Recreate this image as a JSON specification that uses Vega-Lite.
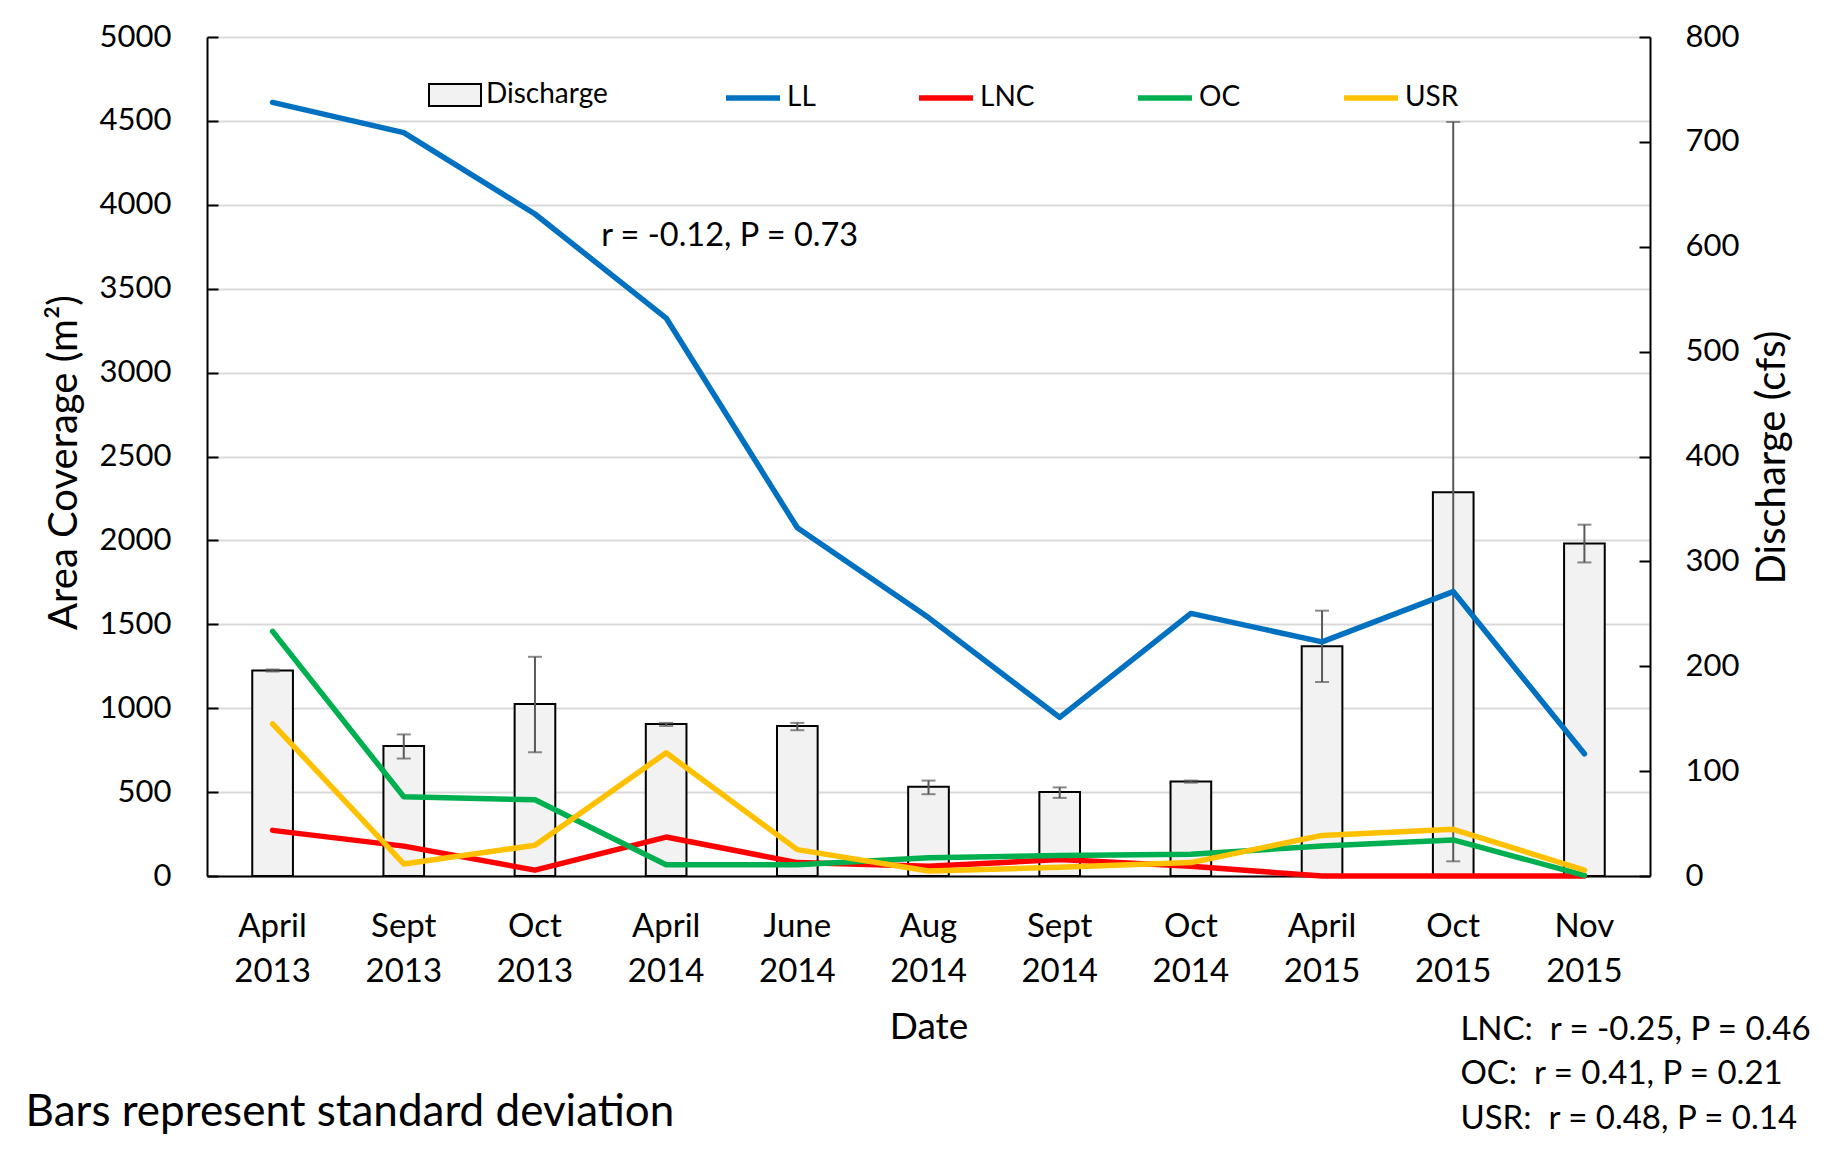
{
  "$schema": "https://vega.github.io/schema/vega-lite/v6.json",
  "width": 1443,
  "height": 839,
  "autosize": {"type": "none"},
  "padding": {"left": 207, "top": 37, "right": 185, "bottom": 277},
  "background": "white",
  "config": {
    "font": "Lato",
    "view": {"stroke": null},
    "axis": {"labelColor": "black", "titleColor": "black", "titleFontWeight": "normal", "labelFont": "Lato", "titleFont": "Lato"},
    "legend": {"labelColor": "black", "labelFont": "Lato"}
  },
  "datasets": {
    "discharge": [
      {"date": "April 2013", "cfs": 196, "lo": 195, "hi": 197},
      {"date": "Sept 2013", "cfs": 124, "lo": 112, "hi": 135},
      {"date": "Oct 2013", "cfs": 164, "lo": 118, "hi": 209},
      {"date": "April 2014", "cfs": 145, "lo": 143, "hi": 146},
      {"date": "June 2014", "cfs": 143, "lo": 139, "hi": 146},
      {"date": "Aug 2014", "cfs": 85, "lo": 78, "hi": 91},
      {"date": "Sept 2014", "cfs": 80, "lo": 74.5, "hi": 84.5},
      {"date": "Oct 2014", "cfs": 90, "lo": 89, "hi": 91},
      {"date": "April 2015", "cfs": 219, "lo": 185, "hi": 253},
      {"date": "Oct 2015", "cfs": 366, "lo": 14, "hi": 719},
      {"date": "Nov 2015", "cfs": 317, "lo": 299, "hi": 335}
    ],
    "coverage": [
      {"date": "April 2013", "series": "LL", "area": 4610},
      {"date": "Sept 2013", "series": "LL", "area": 4430},
      {"date": "Oct 2013", "series": "LL", "area": 3945},
      {"date": "April 2014", "series": "LL", "area": 3325},
      {"date": "June 2014", "series": "LL", "area": 2075},
      {"date": "Aug 2014", "series": "LL", "area": 1540},
      {"date": "Sept 2014", "series": "LL", "area": 945},
      {"date": "Oct 2014", "series": "LL", "area": 1565},
      {"date": "April 2015", "series": "LL", "area": 1395},
      {"date": "Oct 2015", "series": "LL", "area": 1695},
      {"date": "Nov 2015", "series": "LL", "area": 728},
      {"date": "April 2013", "series": "LNC", "area": 272},
      {"date": "Sept 2013", "series": "LNC", "area": 178},
      {"date": "Oct 2013", "series": "LNC", "area": 35},
      {"date": "April 2014", "series": "LNC", "area": 232},
      {"date": "June 2014", "series": "LNC", "area": 80},
      {"date": "Aug 2014", "series": "LNC", "area": 58},
      {"date": "Sept 2014", "series": "LNC", "area": 98},
      {"date": "Oct 2014", "series": "LNC", "area": 58},
      {"date": "April 2015", "series": "LNC", "area": 0},
      {"date": "Oct 2015", "series": "LNC", "area": 0},
      {"date": "Nov 2015", "series": "LNC", "area": 0},
      {"date": "April 2013", "series": "OC", "area": 1458},
      {"date": "Sept 2013", "series": "OC", "area": 472},
      {"date": "Oct 2013", "series": "OC", "area": 454},
      {"date": "April 2014", "series": "OC", "area": 67},
      {"date": "June 2014", "series": "OC", "area": 67},
      {"date": "Aug 2014", "series": "OC", "area": 109},
      {"date": "Sept 2014", "series": "OC", "area": 122},
      {"date": "Oct 2014", "series": "OC", "area": 129},
      {"date": "April 2015", "series": "OC", "area": 179},
      {"date": "Oct 2015", "series": "OC", "area": 215},
      {"date": "Nov 2015", "series": "OC", "area": 4},
      {"date": "April 2013", "series": "USR", "area": 907},
      {"date": "Sept 2013", "series": "USR", "area": 72},
      {"date": "Oct 2013", "series": "USR", "area": 183},
      {"date": "April 2014", "series": "USR", "area": 734},
      {"date": "June 2014", "series": "USR", "area": 157},
      {"date": "Aug 2014", "series": "USR", "area": 30},
      {"date": "Sept 2014", "series": "USR", "area": 52},
      {"date": "Oct 2014", "series": "USR", "area": 80},
      {"date": "April 2015", "series": "USR", "area": 242},
      {"date": "Oct 2015", "series": "USR", "area": 278},
      {"date": "Nov 2015", "series": "USR", "area": 35}
    ]
  },
  "resolve": {"scale": {"y": "independent"}},
  "layer": [
    {
      "data": {"name": "discharge"},
      "encoding": {
        "x": {
          "field": "date", "type": "nominal", "sort": null,
          "scale": {"domain": ["April 2013", "Sept 2013", "Oct 2013", "April 2014", "June 2014", "Aug 2014", "Sept 2014", "Oct 2014", "April 2015", "Oct 2015", "Nov 2015"], "paddingInner": 0.69, "paddingOuter": 0.345},
          "axis": {"title": "Date", "labelExpr": "split(datum.value, ' ')", "labelAngle": 0, "ticks": false, "domainColor": "black", "domainWidth": 2, "labelFontSize": 33, "labelLineHeight": 45, "labelPadding": 34, "labelBaseline": "top", "titleFontSize": 37, "titleY": 151, "titleBaseline": "middle"}
        }
      },
      "layer": [
        {
          "mark": {"type": "bar", "stroke": "black", "strokeWidth": 2},
          "encoding": {
            "y": {"field": "cfs", "type": "quantitative", "scale": {"domain": [0, 800]},
              "axis": {"orient": "right", "title": "Discharge (cfs)", "format": "d", "values": [0, 100, 200, 300, 400, 500, 600, 700, 800], "grid": false, "domainColor": "black", "domainWidth": 2, "tickColor": "black", "tickWidth": 2, "tickSize": -11, "labelPadding": 46, "labelFontSize": 31, "titleFontSize": 40, "titleAngle": 270, "titleX": 122, "titleY": 420, "titleBaseline": "middle", "titleAlign": "center"}},
            "fill": {"datum": "Discharge", "type": "nominal", "scale": {"domain": ["Discharge"], "range": ["#f2f2f2"]},
              "legend": {"orient": "none", "legendX": 221, "legendY": 31, "title": null, "symbolType": "M-1,-0.42H1V0.42H-1Z", "symbolSize": 2704, "symbolStrokeColor": "black", "symbolStrokeWidth": 2, "labelFontSize": 28, "labelOffset": 4}}
          }
        },
        {
          "mark": {"type": "rule", "color": "#595959", "strokeWidth": 2},
          "encoding": {"y": {"field": "lo", "type": "quantitative", "title": "Discharge (cfs)"}, "y2": {"field": "hi"}}
        },
        {
          "mark": {"type": "tick", "color": "#595959", "thickness": 2, "size": 14},
          "encoding": {"y": {"field": "lo", "type": "quantitative", "title": "Discharge (cfs)"}}
        },
        {
          "mark": {"type": "tick", "color": "#595959", "thickness": 2, "size": 14},
          "encoding": {"y": {"field": "hi", "type": "quantitative", "title": "Discharge (cfs)"}}
        }
      ]
    },
    {
      "layer": [
        {
          "data": {"name": "coverage"},
          "mark": {"type": "line", "strokeWidth": 5.5, "strokeCap": "round", "strokeJoin": "round"},
          "encoding": {
            "x": {
              "field": "date", "type": "nominal", "sort": null,
              "scale": {"domain": ["April 2013", "Sept 2013", "Oct 2013", "April 2014", "June 2014", "Aug 2014", "Sept 2014", "Oct 2014", "April 2015", "Oct 2015", "Nov 2015"], "paddingInner": 0.69, "paddingOuter": 0.345},
              "axis": {"title": "Date", "labelExpr": "split(datum.value, ' ')", "labelAngle": 0, "ticks": false, "domainColor": "black", "domainWidth": 2, "labelFontSize": 33, "labelLineHeight": 45, "labelPadding": 34, "labelBaseline": "top", "titleFontSize": 37, "titleY": 151, "titleBaseline": "middle"}
            },
            "y": {"field": "area", "type": "quantitative", "scale": {"domain": [0, 5000]},
              "axis": {"orient": "left", "title": "Area Coverage (m²)", "format": "d", "values": [0, 500, 1000, 1500, 2000, 2500, 3000, 3500, 4000, 4500, 5000], "grid": true, "gridColor": "#d9d9d9", "gridWidth": 2, "domainColor": "black", "domainWidth": 2, "tickColor": "black", "tickWidth": 2, "tickSize": -11, "labelPadding": 47, "labelFontSize": 31, "titleFontSize": 40, "titleAngle": 270, "titleX": -143, "titleY": 425, "titleBaseline": "middle", "titleAlign": "center"}},
            "stroke": {"field": "series", "type": "nominal", "scale": {"domain": ["LL", "LNC", "OC", "USR"], "range": ["#0070c0", "#ff0000", "#00b050", "#ffc000"]},
              "legend": {"orient": "none", "direction": "horizontal", "legendX": 516, "legendY": 31, "title": null, "symbolType": "stroke", "symbolSize": 2916, "symbolStrokeWidth": 5.5, "labelFontSize": 28, "labelOffset": 4, "columnPadding": 92, "gridAlign": "none"}},
            "order": {"value": null}
          }
        },
        {
          "data": {"values": [{"label": "r = -0.12, P = 0.73"}]},
          "mark": {"type": "text", "fontSize": 32.5, "align": "left", "baseline": "middle", "dx": -65, "color": "black"},
          "encoding": {"x": {"datum": "April 2014", "type": "nominal"}, "y": {"datum": 3815, "type": "quantitative"}, "text": {"field": "label"}}
        },
        {
          "data": {"values": [{"label": "LNC:\u00a0 r = -0.25, P = 0.46"}]},
          "mark": {"type": "text", "fontSize": 33, "align": "left", "baseline": "middle", "dx": -124, "color": "black"},
          "encoding": {"x": {"datum": "Nov 2015", "type": "nominal"}, "y": {"datum": -915, "type": "quantitative"}, "text": {"field": "label"}}
        },
        {
          "data": {"values": [{"label": "OC:\u00a0 r = 0.41, P = 0.21"}]},
          "mark": {"type": "text", "fontSize": 33, "align": "left", "baseline": "middle", "dx": -124, "color": "black"},
          "encoding": {"x": {"datum": "Nov 2015", "type": "nominal"}, "y": {"datum": -1177, "type": "quantitative"}, "text": {"field": "label"}}
        },
        {
          "data": {"values": [{"label": "USR:\u00a0 r = 0.48, P = 0.14"}]},
          "mark": {"type": "text", "fontSize": 33, "align": "left", "baseline": "middle", "dx": -124, "color": "black"},
          "encoding": {"x": {"datum": "Nov 2015", "type": "nominal"}, "y": {"datum": -1451, "type": "quantitative"}, "text": {"field": "label"}}
        },
        {
          "data": {"values": [{"label": "Bars represent standard deviation"}]},
          "mark": {"type": "text", "fontSize": 44, "align": "left", "baseline": "middle", "dx": -247, "color": "black"},
          "encoding": {"x": {"datum": "April 2013", "type": "nominal"}, "y": {"datum": -1415, "type": "quantitative"}, "text": {"field": "label"}}
        }
      ]
    }
  ]
}
